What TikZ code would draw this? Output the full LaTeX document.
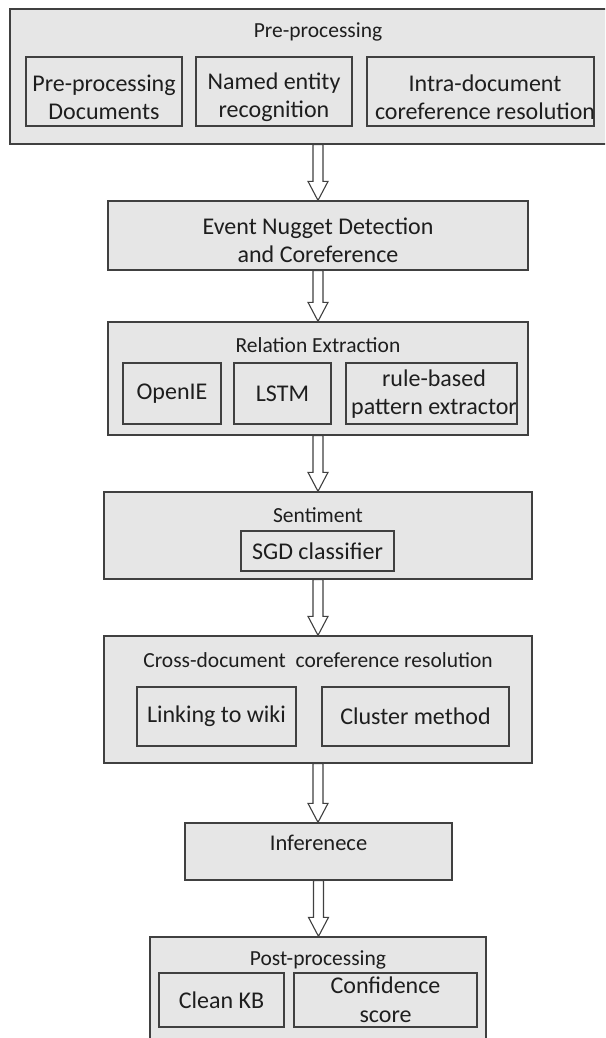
\documentclass[tikz,border=0pt]{standalone}
\usepackage{fontspec}
\setmainfont{Carlito}
\usetikzlibrary{calc}
\definecolor{boxfill}{HTML}{E6E6E6}
\definecolor{boxline}{HTML}{404040}
\definecolor{txt}{HTML}{1E1E1E}
\tikzset{
  outerbox/.style={draw=boxline, fill=boxfill, line width=1.3pt, inner sep=0pt},
  innerbox/.style={draw=boxline, fill=boxfill, line width=1.1pt, inner sep=0pt, align=center, text=txt, font=\fontsize{24}{29}\selectfont},
  titletext/.style={inner sep=0pt, text=txt, font=\fontsize{21.5}{26}\selectfont},
  bigtext/.style={inner sep=0pt, align=center, text=txt, font=\fontsize{24}{28}\selectfont},
  blockarr/.style={draw=boxline, fill=white, line width=1.1pt, line join=miter},
}
\newcommand\blockarrow[2]{%
  \draw[blockarr] let \p1=(#1.south), \p2=(#2.north) in
    (\x1-5pt,\y1) -- (\x1-5pt,\y2+19pt) -- (\x1-10pt,\y2+19pt) -- (\x1,\y2)
    -- (\x1+10pt,\y2+19pt) -- (\x1+5pt,\y2+19pt) -- (\x1+5pt,\y1) -- cycle;}
\begin{document}
\begin{tikzpicture}[x=1pt,y=-1pt]
\clip (0,0) rectangle (605,1038);
\fill[white] (0,0) rectangle (605,1038);
% Box 1
\node[outerbox, minimum width=616pt, minimum height=135pt] (b1) at (318,76.5) {};
\node[titletext] (b1t) at (318,32) {Pre-processing};
\node[innerbox, minimum width=156pt, minimum height=69pt] (b1a) at (104,91.5) {};
\node[bigtext] (b1at) at (104,97) {Pre-processing\\Documents};
\node[innerbox, minimum width=156pt, minimum height=69pt] (b1b) at (274,91.5) {};
\node[bigtext] (b1bt) at (274,97) {Named entity\\recognition};
\node[innerbox, minimum width=227pt, minimum height=69pt] (b1c) at (480.5,91.5) {};
\node[bigtext] (b1ct) at (485,97) {Intra-document\\coreference resolution};
% Box 2
\node[outerbox, minimum width=420pt, minimum height=69pt] (b2) at (318,235.5) {};
\node[bigtext] (b2t) at (318,240) {Event Nugget Detection\\and Coreference};
% Box 3
\node[outerbox, minimum width=420pt, minimum height=113pt] (b3) at (318,378.5) {};
\node[titletext] (b3t) at (318,345) {Relation Extraction};
\node[innerbox, minimum width=98pt, minimum height=61pt] (b3a) at (172,393.5) {OpenIE};
\node[innerbox, minimum width=97pt, minimum height=61pt] (b3b) at (282.5,393.5) {LSTM};
\node[innerbox, minimum width=171pt, minimum height=61pt] (b3c) at (431.5,393.5) {};
\node[bigtext] (b3ct) at (434,394.5) {rule-based\\pattern extractor};
% Box 4
\node[outerbox, minimum width=428pt, minimum height=87pt] (b4) at (318,535.5) {};
\node[titletext] (b4t) at (318,515) {Sentiment};
\node[innerbox, minimum width=153pt, minimum height=40pt] (b4a) at (317.5,551) {SGD classifier};
% Box 5
\node[outerbox, minimum width=428pt, minimum height=127pt] (b5) at (318,699.5) {};
\node[titletext] (b5t) at (318,660) {Cross-document\ \ coreference resolution};
\node[innerbox, minimum width=159pt, minimum height=59pt] (b5a) at (216.5,716.5) {Linking to wiki};
\node[innerbox, minimum width=187pt, minimum height=59pt] (b5b) at (415.5,716.5) {Cluster method};
% Box 6
\node[outerbox, minimum width=267pt, minimum height=57pt] (b6) at (318.5,851.5) {};
\node[inner sep=0pt, text=txt, font=\fontsize{22.5}{27}\selectfont] (b6t) at (318.5,843) {Inferenece};
% Box 7
\node[outerbox, minimum width=336pt, minimum height=113pt] (b7) at (318,993.5) {};
\node[titletext] (b7t) at (318,960) {Post-processing};
\node[innerbox, minimum width=125pt, minimum height=54pt] (b7a) at (221.5,1000) {Clean KB};
\node[innerbox, minimum width=183pt, minimum height=54pt] (b7b) at (385.5,1000) {Confidence\\score};
% Arrows
\blockarrow{b1}{b2}
\blockarrow{b2}{b3}
\blockarrow{b3}{b4}
\blockarrow{b4}{b5}
\blockarrow{b5}{b6}
\blockarrow{b6}{b7}
\end{tikzpicture}
\end{document}
